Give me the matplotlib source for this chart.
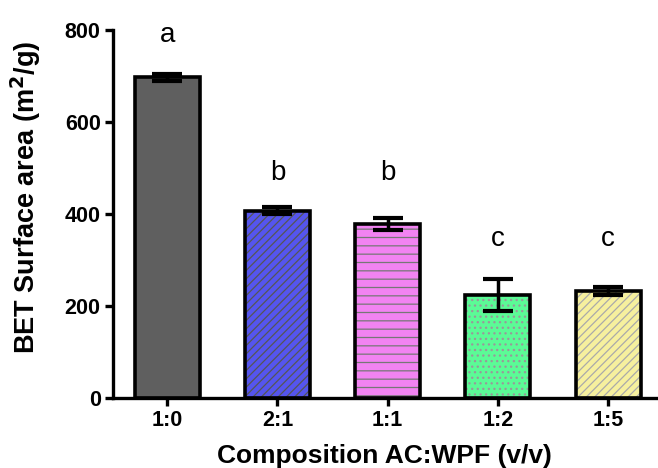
import matplotlib
matplotlib.use('Agg')
import matplotlib.pyplot as plt

plt.rcParams['font.family'] = ['Liberation Sans', 'DejaVu Sans']
plt.rcParams['hatch.linewidth'] = 0.9

# data
categories = ['1:0', '2:1', '1:1', '1:2', '1:5']
bet_area = [697, 407, 378, 224, 232]
bet_err = [8, 7, 14, 35, 8]
letters = ['a', 'b', 'b', 'c', 'c']
letter_y = [760, 460, 460, 318, 318]

colors = ['#5f5f5f', '#5555ee', '#f283f2', '#5bfb96', '#f6f09e']
hatches = [None, '////', '--', '...', '////']
hatch_col = ['#5f5f5f', '#555555', '#777777', '#999999', '#aaaaaa']

fig = plt.figure(figsize=(6.58, 4.68), dpi=100)
ax = fig.add_axes([0.172, 0.150, 0.826, 0.786])

x = range(len(categories))
for i in x:
    # fill + hatch
    ax.bar(i, bet_area[i], width=0.59, color=colors[i], hatch=hatches[i],
           edgecolor=hatch_col[i], linewidth=0, zorder=2)
    # outline
    ax.bar(i, bet_area[i], width=0.59, facecolor='none',
           edgecolor='black', linewidth=2.6, zorder=3)

ax.errorbar(list(x), bet_area, yerr=bet_err, fmt='none', ecolor='black',
            elinewidth=2.5, capsize=11, capthick=3, zorder=4)

for i in x:
    ax.text(i, letter_y[i], letters[i], ha='center', va='bottom',
            fontsize=20, color='black')

ax.set_xlim(-0.49, 4.44)
ax.set_ylim(0, 800)
ax.set_yticks([0, 200, 400, 600, 800])
ax.set_xticks(list(x))
ax.set_xticklabels(categories)

for s in ['top', 'right']:
    ax.spines[s].set_visible(False)
for s in ['left', 'bottom']:
    ax.spines[s].set_linewidth(2.4)

ax.tick_params(axis='both', direction='out', length=6, width=2.4,
               labelsize=15.5, pad=3)
for lab in ax.get_xticklabels() + ax.get_yticklabels():
    lab.set_fontweight('bold')

ax.set_ylabel('BET Surface area (m$^\\mathbf{2}$/g)', fontsize=19.5,
              fontweight='bold')
ax.yaxis.set_label_coords(-0.13, 0.546)
ax.set_xlabel('Composition AC:WPF (v/v)', fontsize=19, fontweight='bold',
              labelpad=9)

fig.savefig('out.png', dpi=100, facecolor='white')
